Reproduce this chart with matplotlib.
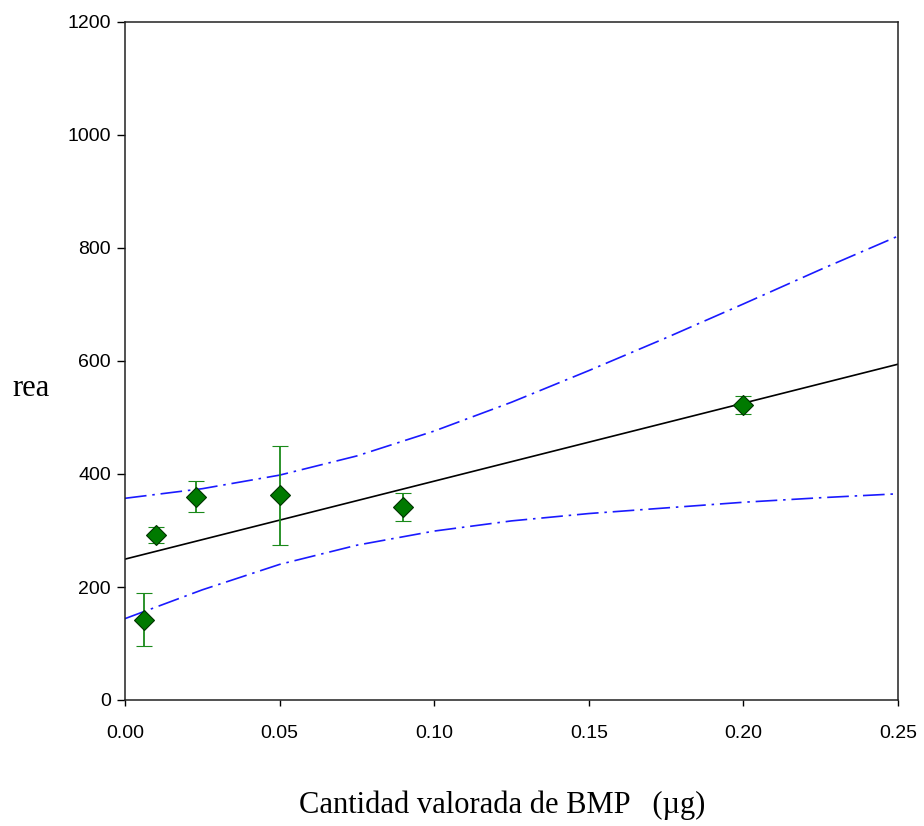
import numpy as np
import matplotlib
matplotlib.use("Agg")
import matplotlib.pyplot as plt

# Data points (means with error bars)
x_vals = [0.006, 0.010, 0.023, 0.050, 0.090, 0.200]
y_vals = [142, 292, 360, 362, 341, 522]
err_up = [189, 307, 388, 450, 367, 538]
err_lo = [95, 278, 333, 274, 316, 506]

# Confidence band
band_x = [0.0, 0.025, 0.05, 0.075, 0.10, 0.125, 0.15, 0.175, 0.20, 0.225, 0.25]
band_upper = [357, 374, 398, 432, 476, 527, 583, 641, 701, 762, 821]
band_lower = [144, 195, 240, 274, 299, 317, 330, 340, 350, 358, 365]

x_ticks = [0.00, 0.05, 0.10, 0.15, 0.20, 0.25]
y_ticks = [0, 200, 400, 600, 800, 1000, 1200]

fig = plt.figure(figsize=(9.24, 8.26), dpi=100)
ax = fig.add_axes([125/924, 1-700/826, (898-125)/924, (700-22)/826])

# regression line
slope, intercept = np.polyfit(x_vals, y_vals, 1)
lx = np.array([0.0, 0.25])
ax.plot(lx, intercept + slope*lx, color='black', lw=1.2, zorder=2)

# confidence bands
for b in (band_upper, band_lower):
    ax.plot(band_x, b, color='#1a1aff', lw=1.2, dashes=(13, 3.5, 1.5, 3.5), zorder=2)

yerr = [np.array(y_vals) - np.array(err_lo), np.array(err_up) - np.array(y_vals)]
ax.errorbar(x_vals, y_vals, yerr=yerr, fmt='D', color='#0a8a0a', ecolor='#1a8a1a',
            elinewidth=1.3, capsize=6, capthick=1.3, markersize=10,
            markerfacecolor='#007a00', markeredgecolor='#003300', markeredgewidth=0.8,
            zorder=3)

ax.set_xlim(0, 0.25)
ax.set_ylim(0, 1200)
ax.set_xticks(x_ticks)
ax.set_xticklabels([f"{v:.2f}" for v in x_ticks])
ax.set_yticks(y_ticks)
ax.set_yticklabels([str(v) for v in y_ticks])
ax.tick_params(axis='both', direction='out', labelsize=14, width=1, colors='black')
ax.tick_params(axis='y', length=6, pad=4)
ax.tick_params(axis='x', length=4, pad=14)
for lab in ax.get_xticklabels() + ax.get_yticklabels():
    lab.set_fontfamily('Liberation Sans')
for s in ax.spines.values():
    s.set_linewidth(1.1)
    s.set_color('#222222')

fig.text(12/924, 1-389/826, "rea", fontfamily='Liberation Serif', fontsize=22,
         ha='left', va='center')
fig.text(502/924, 1-805/826, "Cantidad valorada de BMP   (µg)", fontfamily='Liberation Serif',
         fontsize=22, ha='center', va='center')

fig.savefig("out.png", dpi=100)
